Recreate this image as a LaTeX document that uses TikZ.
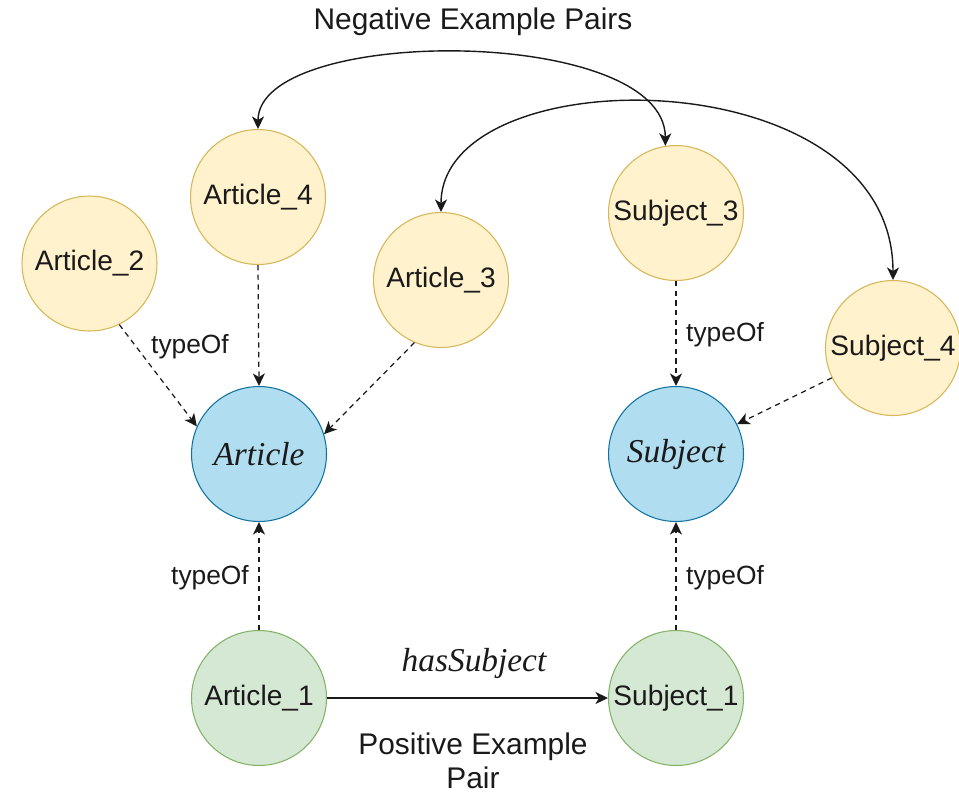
\documentclass[tikz,border=0pt]{standalone}
\usepackage{fontspec}
\setmainfont{Liberation Sans}
\newfontfamily\seriffam{Liberation Serif}
\usetikzlibrary{arrows.meta}

\definecolor{negfill}{HTML}{FFF2CC}
\definecolor{negline}{HTML}{D6B656}
\definecolor{clsfill}{HTML}{B1DDF0}
\definecolor{clsline}{HTML}{10739E}
\definecolor{posfill}{HTML}{D5E8D4}
\definecolor{posline}{HTML}{82B366}
\definecolor{ink}{HTML}{1A1A1A}

\tikzset{headtip/.tip={Stealth[length=0.25cm, width=0.24cm, inset=0.07cm]}}

\begin{document}
\begin{tikzpicture}[x=0.02cm, y=-0.02cm,
  every node/.style={text=ink},
  entity/.style={circle, minimum size=2.7cm, inner sep=0pt, line width=0.6pt,
    font=\fontsize{16}{19}\selectfont},
  negnode/.style={entity, fill=negfill, draw=negline},
  posnode/.style={entity, fill=posfill, draw=posline},
  clsnode/.style={entity, fill=clsfill, draw=clsline,
    font=\seriffam\itshape\fontsize{19}{22}\selectfont},
  typeedge/.style={draw=ink, line width=0.7pt, dash pattern=on 3pt off 2.5pt, -{headtip}},
  pairedge/.style={draw=ink, line width=0.8pt, {headtip}-{headtip}},
  relation/.style={draw=ink, line width=0.8pt, -{headtip}},
  edgelabel/.style={font=\fontsize{15}{18}\selectfont, inner sep=1pt},
  caption/.style={font=\fontsize{17}{19.5}\selectfont, align=center, inner sep=0pt}
]
\useasboundingbox (0,0) rectangle (959,795);

% instances used as negative examples
\node[negnode] (a2) at (89.5,263.5) {Article\_2};
\node[negnode] (a4) at (258,197) {Article\_4};
\node[negnode] (a3) at (441,280) {Article\_3};
\node[negnode] (s3) at (676,213) {Subject\_3};
\node[negnode] (s4) at (893,348) {Subject\_4};

% classes
\node[clsnode] (art) at (259,454) {Article};
\node[clsnode] (sub) at (676,454) {\raisebox{-0.08em}{Subject}};

% positive pair
\node[posnode] (a1) at (259,698) {Article\_1};
\node[posnode] (s1) at (676,698) {Subject\_1};

% typeOf links
\draw[typeedge] (a2.-64) -- (art.156);
\draw[typeedge] (a4.south) -- (art.north);
\draw[typeedge] (a3.247.6) -- (art.17.6);
\draw[typeedge] (s3.south) -- (sub.north);
\draw[typeedge] (s4.206.6) -- (sub.26.6);
\draw[typeedge] (a1.north) -- (art.south);
\draw[typeedge] (s1.north) -- (sub.south);

\node[edgelabel] (t1) at (190,347) {typeOf};
\node[edgelabel] (t2) at (725,335) {typeOf};
\node[edgelabel] (t3) at (210,578) {typeOf};
\node[edgelabel] (t4) at (725,578) {typeOf};

% negative example pairs
\draw[pairedge] (a4.north) .. controls (258,25) and (665,25) .. (s3.99.5);
\draw[pairedge] (a3.north) .. controls (441,56) and (893,56) .. (s4.north);

% relation of the positive pair
\draw[relation] (a1.east) -- (s1.west);
\node[font=\seriffam\itshape\fontsize{19}{22}\selectfont] (rel) at (474,663) {hasSubject};

\node[caption] (neg) at (473,22) {Negative Example Pairs};
\node[caption] (pos) at (473,761) {Positive Example\\Pair};
\end{tikzpicture}
\end{document}
